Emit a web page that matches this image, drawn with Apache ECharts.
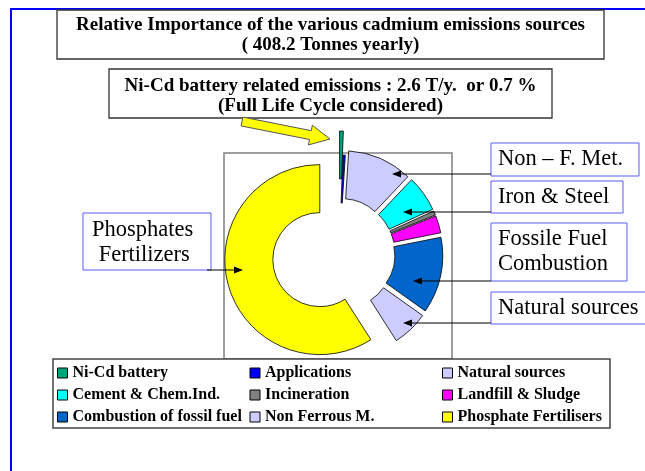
<!DOCTYPE html>
<html>
<head>
<meta charset="utf-8">
<script src="https://cdn.jsdelivr.net/npm/echarts@6/dist/echarts.min.js"></script>
<style>
  html, body { margin: 0; padding: 0; background: #fff; }
  #chart { width: 645px; height: 471px; }
</style>
</head>
<body>
<div id="chart"></div>
<script>
// emission sources, clockwise from 12 o'clock (tonnes / year, total 408.2)
var sources = ['Ni-Cd battery', 'Applications', 'Non Ferrous M.', 'Cement & Chem.Ind.', 'Incineration',
  'Landfill & Sludge', 'Combustion of fossil fuel', 'Natural sources', 'Phosphate Fertilisers']
var tonnes = [2.6, 1.6, 45, 25, 3, 12, 53, 25, 241]

// legend is read row by row
var legendOrder = ['Ni-Cd battery', 'Applications', 'Natural sources',
  'Cement & Chem.Ind.', 'Incineration', 'Landfill & Sludge',
  'Combustion of fossil fuel', 'Non Ferrous M.', 'Phosphate Fertilisers']

var titleLines = ['Relative Importance of the various cadmium emissions sources', '( 408.2 Tonnes yearly)']
var noteLines = ['Ni-Cd battery related emissions : 2.6 T/y.  or 0.7 %', '(Full Life Cycle considered)']
var calloutTexts = [['Non \u2013 F. Met.'], ['Iron & Steel'], ['Fossile Fuel', 'Combustion'], ['Natural sources'], ['Phosphates', ' Fertilizers']]

var colors = {
  'Ni-Cd battery': '#00a37a',
  'Applications': '#0000ff',
  'Non Ferrous M.': '#ccccff',
  'Cement & Chem.Ind.': '#00ffff',
  'Incineration': '#808080',
  'Landfill & Sludge': '#ff00ff',
  'Combustion of fossil fuel': '#0066cc',
  'Natural sources': '#ccccff',
  'Phosphate Fertilisers': '#ffff00'
}
// how far each slice is pulled out of the ring
var explode = [28, 4, 9, 9, 9, 9, 9, 9, 20]

var serif = "'Liberation Serif', 'Times New Roman', serif"

function box(x, y, w, h, stroke, lw, z) {
  return { type: 'rect', z: z, shape: { x: x, y: y, width: w, height: h },
    style: { fill: '#fff', stroke: stroke, lineWidth: lw } }
}
function label(str, x, y, size, bold, align, z) {
  return { type: 'text', z: z, style: { text: str, x: x, y: y, fill: '#000',
    fontFamily: serif, fontSize: size, fontWeight: bold ? 'bold' : 'normal',
    textAlign: align, textVerticalAlign: 'middle' } }
}
// horizontal arrow, tip at x2
function arrow(x1, x2, y) {
  var d = x2 < x1 ? 1 : -1
  return [
    { type: 'line', z: 60, shape: { x1: x1, y1: y, x2: x2 + d * 6, y2: y }, style: { stroke: '#000', lineWidth: 1 } },
    { type: 'polygon', z: 60, shape: { points: [[x2, y], [x2 + d * 9, y - 3.5], [x2 + d * 9, y + 3.5]] }, style: { fill: '#000' } }
  ]
}
function bigArrow(tail, tip) {
  var dx = tip[0] - tail[0], dy = tip[1] - tail[1]
  var len = Math.sqrt(dx * dx + dy * dy)
  var ux = dx / len, uy = dy / len, px = -uy, py = ux
  var nx = tip[0] - ux * 20, ny = tip[1] - uy * 20
  var pts = [
    [tail[0] + px * 4.5, tail[1] + py * 4.5],
    [nx + px * 4.5, ny + py * 4.5],
    [nx + px * 10, ny + py * 10],
    tip,
    [nx - px * 10, ny - py * 10],
    [nx - px * 4.5, ny - py * 4.5],
    [tail[0] - px * 4.5, tail[1] - py * 4.5]
  ]
  return { type: 'polygon', z: 60, shape: { points: pts }, style: { fill: '#ffff00', stroke: '#555', lineWidth: 1 } }
}

var graphics = [
  { type: 'polyline', z: 50, shape: { points: [[11, 471], [11, 9], [645, 9]] }, style: { stroke: '#0000ff', lineWidth: 2, fill: null } },
  box(57, 10, 547, 49, '#333', 1.3, 50),
  label(titleLines[0], 330.5, 25, 19, true, 'center', 51),
  label(titleLines[1], 330.5, 45, 19, true, 'center', 51),
  box(109, 69, 443, 49, '#333', 1.3, 50),
  label(noteLines[0], 330.5, 86, 19, true, 'center', 51),
  label(noteLines[1], 330.5, 106, 19, true, 'center', 51),
  bigArrow([242, 121.5], [330, 139]),
  // plot frame behind the ring
  { type: 'rect', z: -1, shape: { x: 224, y: 153, width: 228, height: 206 }, style: { fill: null, stroke: '#808080', lineWidth: 1.5 } },
  box(53, 359, 557, 69, '#444', 1.5, -1)
]

// callout boxes
var calloutBoxes = [
  [491, 143, 148, 33, 174, 392],
  [491, 181, 132, 32, 212, 403],
  [491, 223, 136, 58, 281, 413],
  [491, 292, 160, 32, 323, 403]
]
calloutBoxes.forEach(function (b, i) {
  graphics.push(box(b[0], b[1], b[2], b[3], '#5a5aff', 1, 55))
  var lines = calloutTexts[i]
  lines.forEach(function (t, j) {
    var cy = b[1] + b[3] / 2 + (j - (lines.length - 1) / 2) * 25
    graphics.push(label(t, 498, cy, 22.5, false, 'left', 56))
  })
  graphics = graphics.concat(arrow(b[0], b[5], b[4]))
})
graphics.push(box(83, 213, 128, 57, '#5a5aff', 1, 55))
graphics.push(label(calloutTexts[4][0], 92, 230, 22.5, false, 'left', 56))
graphics.push(label(calloutTexts[4][1], 93, 255, 22.5, false, 'left', 56))
graphics = graphics.concat(arrow(207, 243, 270))

// one ring per slice so that each slice gets its own pull-out distance
var series = sources.map(function (name, k) {
  return {
    type: 'pie',
    name: name,
    center: [339, 254],
    radius: [47, 95],
    startAngle: 90,
    clockwise: true,
    selectedMode: 'single',
    selectedOffset: explode[k],
    silent: true,
    label: { show: false },
    labelLine: { show: false },
    emphasis: { disabled: true },
    data: sources.map(function (n, i) {
      return {
        name: n,
        value: tonnes[i],
        selected: i === k,
        itemStyle: i === k
          ? { color: colors[n], borderColor: '#000', borderWidth: 0.8, opacity: 1 }
          : { color: 'rgba(0,0,0,0)', borderWidth: 0 },
        select: { itemStyle: i === k
          ? { color: colors[n], borderColor: '#000', borderWidth: 0.8 }
          : { color: 'rgba(0,0,0,0)', borderWidth: 0 } }
      }
    })
  }
})

var chart = echarts.init(document.getElementById('chart'))
chart.setOption({
  animation: false,
  backgroundColor: '#fff',
  legend: {
    data: legendOrder.map(function (n) {
      return { name: n, itemStyle: { color: colors[n], borderColor: '#000', borderWidth: 1 } }
    }),
    left: 57,
    top: 365,
    width: 590,
    padding: 0,
    icon: 'rect',
    itemWidth: 10,
    itemHeight: 10,
    itemGap: 6,
    selectedMode: false,
    textStyle: { fontFamily: serif, fontWeight: 'bold', fontSize: 16, color: '#000', width: 171, lineHeight: 15 }
  },
  graphic: graphics,
  series: series
})
</script>
</body>
</html>
